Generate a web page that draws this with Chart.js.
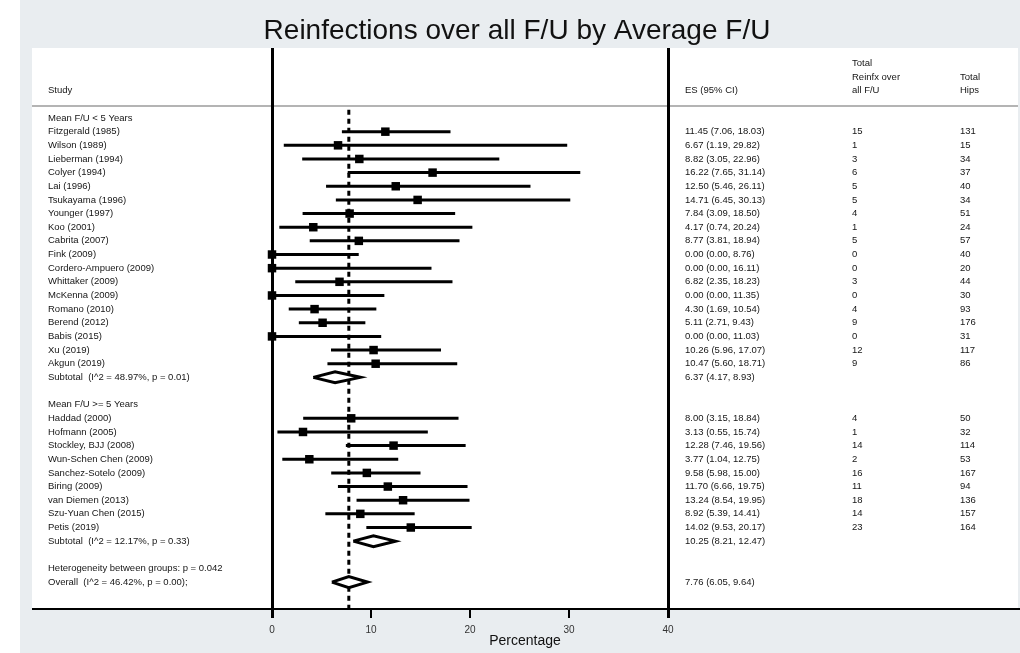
<!DOCTYPE html>
<html>
<head>
<meta charset="utf-8">
<script src="https://cdn.jsdelivr.net/npm/chart.js@4/dist/chart.umd.min.js"></script>
<style>
  html, body { margin: 0; padding: 0; background: #e9edf0; }
  canvas { display: block; }
</style>
</head>
<body>
<canvas id="forest" width="1020" height="653"></canvas>
<script>
// one entry per plot row, top to bottom (null = nothing on that row)
const rowLabels = [
  "Mean F/U < 5 Years",
  "Fitzgerald (1985)", "Wilson (1989)", "Lieberman (1994)", "Colyer (1994)",
  "Lai (1996)", "Tsukayama (1996)", "Younger (1997)", "Koo (2001)",
  "Cabrita (2007)", "Fink (2009)", "Cordero-Ampuero (2009)", "Whittaker (2009)",
  "McKenna (2009)", "Romano (2010)", "Berend (2012)", "Babis (2015)",
  "Xu (2019)", "Akgun (2019)",
  "Subtotal  (I^2 = 48.97%, p = 0.01)",
  "",
  "Mean F/U >= 5 Years",
  "Haddad (2000)", "Hofmann (2005)", "Stockley, BJJ (2008)", "Wun-Schen Chen (2009)",
  "Sanchez-Sotelo (2009)", "Biring (2009)", "van Diemen (2013)", "Szu-Yuan Chen (2015)",
  "Petis (2019)",
  "Subtotal  (I^2 = 12.17%, p = 0.33)",
  "",
  "Heterogeneity between groups: p = 0.042",
  "Overall  (I^2 = 46.42%, p = 0.00);"
];
const rowKinds = [
  "group",
  "study", "study", "study", "study", "study", "study", "study", "study", "study",
  "study", "study", "study", "study", "study", "study", "study", "study", "study",
  "subtotal", "blank", "group",
  "study", "study", "study", "study", "study", "study", "study", "study", "study",
  "subtotal", "blank", "note", "overall"
];
const esValues = [
  null,
  11.45, 6.67, 8.82, 16.22, 12.50, 14.71, 7.84, 4.17, 8.77,
  0.00, 0.00, 6.82, 0.00, 4.30, 5.11, 0.00, 10.26, 10.47,
  6.37, null, null,
  8.00, 3.13, 12.28, 3.77, 9.58, 11.70, 13.24, 8.92, 14.02,
  10.25, null, null, 7.76
];
const ciLow = [
  null,
  7.06, 1.19, 3.05, 7.65, 5.46, 6.45, 3.09, 0.74, 3.81,
  0.00, 0.00, 2.35, 0.00, 1.69, 2.71, 0.00, 5.96, 5.60,
  4.17, null, null,
  3.15, 0.55, 7.46, 1.04, 5.98, 6.66, 8.54, 5.39, 9.53,
  8.21, null, null, 6.05
];
const ciHigh = [
  null,
  18.03, 29.82, 22.96, 31.14, 26.11, 30.13, 18.50, 20.24, 18.94,
  8.76, 16.11, 18.23, 11.35, 10.54, 9.43, 11.03, 17.07, 18.71,
  8.93, null, null,
  18.84, 15.74, 19.56, 12.75, 15.00, 19.75, 19.95, 14.41, 20.17,
  12.47, null, null, 9.64
];
const reinfections = [
  null,
  15, 1, 3, 6, 5, 5, 4, 1, 5, 0, 0, 3, 0, 4, 9, 0, 12, 9,
  null, null, null,
  4, 1, 14, 2, 16, 11, 18, 14, 23,
  null, null, null, null
];
const totalHips = [
  null,
  131, 15, 34, 37, 40, 34, 51, 24, 57, 40, 20, 44, 30, 93, 176, 31, 117, 86,
  null, null, null,
  50, 32, 114, 53, 167, 94, 136, 157, 164,
  null, null, null, null
];
const xTicks = [0, 10, 20, 30, 40];

const TEXT_FONT = '9.5px "Liberation Sans", Arial, sans-serif';
const INK = "#151515";

// build the datasets from the row arrays
const ciSegments = [];
const squares = [];
const diamonds = [];
rowKinds.forEach((kind, i) => {
  if (kind === "study") {
    ciSegments.push({ x: ciLow[i], y: i }, { x: ciHigh[i], y: i }, { x: null, y: null });
    squares.push({ x: esValues[i], y: i });
  } else if (kind === "subtotal" || kind === "overall") {
    const h = 0.4;
    diamonds.push([
      { x: ciLow[i], y: i }, { x: esValues[i], y: i - h },
      { x: ciHigh[i], y: i }, { x: esValues[i], y: i + h },
      { x: ciLow[i], y: i }
    ]);
  }
});
const overallEs = esValues[rowKinds.indexOf("overall")];

const Y_MIN = -5.13, Y_MAX = 35.97;

const forestFrame = {
  id: "forestFrame",
  beforeDraw(chart) {
    const { ctx, width, height, chartArea, scales: { y } } = chart;
    ctx.save();
    ctx.fillStyle = "#e9edf0";
    ctx.fillRect(0, 0, width, height);
    ctx.fillStyle = "#ffffff";
    ctx.fillRect(0, 0, 20, height);
    ctx.fillRect(32, chartArea.top, 986, chartArea.bottom - chartArea.top);

    // header rule
    const ry = y.getPixelForValue(-0.88);
    ctx.strokeStyle = "#b4b4b4";
    ctx.lineWidth = 2;
    ctx.beginPath(); ctx.moveTo(32, ry); ctx.lineTo(1018, ry); ctx.stroke();

    ctx.fillStyle = "#111";
    ctx.font = '28px "Liberation Sans", Arial, sans-serif';
    ctx.textAlign = "center";
    ctx.textBaseline = "middle";
    ctx.fillText("Reinfections over all F/U by Average F/U", 517, 31);

    ctx.font = '14px "Liberation Sans", Arial, sans-serif';
    ctx.fillText("Percentage", 525, 641);
    ctx.restore();
  },
  beforeDatasetsDraw(chart) {
    const { ctx, chartArea, scales: { x } } = chart;
    ctx.save();
    ctx.strokeStyle = "#000";
    ctx.lineWidth = 2;
    ctx.beginPath(); ctx.moveTo(32, chartArea.bottom); ctx.lineTo(1020, chartArea.bottom); ctx.stroke();
    ctx.lineWidth = 3;
    [xTicks[0], xTicks[xTicks.length - 1]].forEach(v => {
      const px = Math.round(x.getPixelForValue(v)) + 0.5;
      ctx.beginPath(); ctx.moveTo(px, chartArea.top); ctx.lineTo(px, chartArea.bottom + 9); ctx.stroke();
    });
    ctx.restore();
  },
  afterDatasetsDraw(chart) {
    const { ctx, scales: { y } } = chart;
    ctx.save();
    ctx.fillStyle = INK;
    ctx.font = TEXT_FONT;
    ctx.textAlign = "left";
    ctx.textBaseline = "middle";

    // column headers
    ctx.fillText("Study", 48, y.getPixelForValue(-2));
    ctx.fillText("ES (95% CI)", 685, y.getPixelForValue(-2));
    ctx.fillText("Total", 852, y.getPixelForValue(-4));
    ctx.fillText("Reinfx over", 852, y.getPixelForValue(-3));
    ctx.fillText("all F/U", 852, y.getPixelForValue(-2));
    ctx.fillText("Total", 960, y.getPixelForValue(-3));
    ctx.fillText("Hips", 960, y.getPixelForValue(-2));

    rowLabels.forEach((label, i) => {
      const py = y.getPixelForValue(i);
      if (label) ctx.fillText(label, 48, py);
      if (esValues[i] !== null) {
        const es = `${esValues[i].toFixed(2)} (${ciLow[i].toFixed(2)}, ${ciHigh[i].toFixed(2)})`;
        ctx.fillText(es, 685, py);
      }
      if (reinfections[i] !== null) ctx.fillText(String(reinfections[i]), 852, py);
      if (totalHips[i] !== null) ctx.fillText(String(totalHips[i]), 960, py);
    });
    ctx.restore();
  }
};

const datasets = [
  {
    label: "overall",
    data: [{ x: overallEs, y: -0.6 }, { x: overallEs, y: Y_MAX }],
    borderColor: "#000", borderWidth: 3, borderDash: [5, 4],
    pointRadius: 0, order: 4
  },
  {
    label: "ci",
    data: ciSegments,
    borderColor: "#000", borderWidth: 3, borderCapStyle: "butt",
    pointRadius: 0, spanGaps: false, order: 3
  },
  {
    label: "es",
    data: squares,
    showLine: false, clip: 10,
    pointStyle: "rect", pointRadius: 6,
    backgroundColor: "#000", borderColor: "#000", borderWidth: 0,
    order: 2
  }
];
diamonds.forEach((pts, k) => {
  datasets.push({
    label: "pooled " + k,
    data: pts,
    borderColor: "#000", borderWidth: 3, borderJoinStyle: "miter",
    backgroundColor: "#fff", fill: "shape",
    pointRadius: 0, order: 1
  });
});

new Chart(document.getElementById("forest"), {
  type: "line",
  data: { datasets },
  options: {
    responsive: false,
    animation: false,
    events: [],
    layout: { padding: { left: 272, right: 352, top: 48, bottom: 0 } },
    plugins: { legend: { display: false }, tooltip: { enabled: false } },
    scales: {
      x: {
        type: "linear", min: 0, max: 40,
        afterBuildTicks: s => { s.ticks = xTicks.map(v => ({ value: v })); },
        afterFit: s => { s.height = 44; },
        grid: { drawOnChartArea: false, drawTicks: true, tickLength: 9, color: "#000", lineWidth: 2 },
        border: { display: true, color: "#000", width: 2 },
        ticks: { padding: 6, color: "#333", font: { size: 10, family: '"Liberation Sans", Arial' } },
        title: { display: false }
      },
      y: { type: "linear", reverse: true, min: Y_MIN, max: Y_MAX, display: false }
    }
  },
  plugins: [forestFrame]
});
</script>
</body>
</html>
